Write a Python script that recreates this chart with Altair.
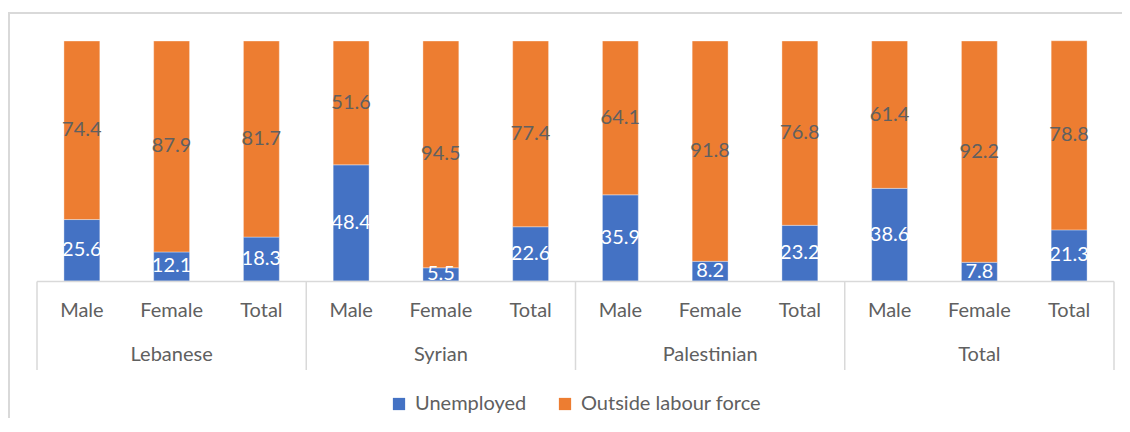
import altair as alt
import pandas as pd

groups = ["Lebanese", "Syrian", "Palestinian", "Total"]
subs = ["Male", "Female", "Total"]
unemployed = [25.6, 12.1, 18.3, 48.4, 5.5, 22.6, 35.9, 8.2, 23.2, 38.6, 7.8, 21.3]
outside = [74.4, 87.9, 81.7, 51.6, 94.5, 77.4, 64.1, 91.8, 76.8, 61.4, 92.2, 78.8]
series = ["Unemployed", "Outside labour force"]
colors = ["#4472C4", "#ED7D31"]

FONT = "Lato"
GRAY = "#606060"
LINE = "#D9D9D9"
W, H = 1077, 240

rows = []
for i in range(len(unemployed)):
    g = groups[i // 3]
    s = subs[i % 3]
    rows.append({"idx": i, "group": g, "sub": s, "series": series[0], "order": 0, "value": unemployed[i]})
    rows.append({"idx": i, "group": g, "sub": s, "series": series[1], "order": 1, "value": outside[i]})
df = pd.DataFrame(rows)

sub_df = pd.DataFrame({"idx": list(range(12)), "sub": [subs[i % 3] for i in range(12)]})
grp_df = pd.DataFrame({"gi": list(range(4)), "group": groups})
sep_df = pd.DataFrame({"gi": list(range(5))})
base_df = pd.DataFrame({"a": [0], "b": [len(unemployed)]})

xs = alt.Scale(domain=[0, 12], nice=False, zero=False, padding=0)
ys = alt.Scale(domain=[0, 100], nice=False)

stacked = alt.Chart(df).transform_stack(
    stack="value", groupby=["idx"], as_=["y0", "y1"], sort=[alt.SortField("order")]
).transform_calculate(
    x0="datum.idx + 0.3", x1="datum.idx + 0.7", xm="datum.idx + 0.5",
    ym="(datum.y0 + datum.y1) / 2"
)

bars = stacked.mark_bar(stroke="white", strokeWidth=0.6, strokeOpacity=0.6).encode(
    x=alt.X("x0:Q", scale=xs, axis=None),
    x2="x1:Q",
    y=alt.Y("y0:Q", scale=ys, axis=None),
    y2="y1:Q",
    color=alt.Color(
        "series:N",
        scale=alt.Scale(domain=series, range=colors),
        legend=alt.Legend(
            title=None, orient="none", direction="horizontal",
            legendX=352, legendY=353,
            symbolType="square", symbolSize=150, symbolStrokeWidth=0,
            labelFont=FONT, labelFontSize=20, labelColor=GRAY, labelLimit=0,
            labelOffset=6, columnPadding=28,
        ),
    ),
)

labels = stacked.mark_text(font=FONT, fontSize=20, baseline="middle", align="center", clip=True).encode(
    x=alt.X("xm:Q", scale=xs, axis=None),
    y=alt.Y("ym:Q", scale=ys, axis=None),
    text=alt.Text("value:Q", format=".1f"),
    color=alt.condition(alt.datum.series == "Unemployed", alt.value("white"), alt.value(GRAY)),
)

sub_labels = alt.Chart(sub_df).transform_calculate(xm="datum.idx + 0.5").mark_text(
    font=FONT, fontSize=20, color=GRAY, baseline="middle", align="center"
).encode(
    x=alt.X("xm:Q", scale=xs, axis=None),
    y=alt.value(270),
    text="sub:N",
)

grp_labels = alt.Chart(grp_df).transform_calculate(xm="datum.gi * 3 + 1.5").mark_text(
    font=FONT, fontSize=20, color=GRAY, baseline="middle", align="center"
).encode(
    x=alt.X("xm:Q", scale=xs, axis=None),
    y=alt.value(314),
    text="group:N",
)

seps = alt.Chart(sep_df).transform_calculate(xp="datum.gi * 3").mark_rule(
    color=LINE, strokeWidth=1.5
).encode(
    x=alt.X("xp:Q", scale=xs, axis=None),
    y=alt.value(240.5),
    y2=alt.value(329),
)

baseline = alt.Chart(base_df).mark_rule(color=LINE, strokeWidth=1.5).encode(
    x=alt.X("a:Q", scale=xs, axis=None),
    x2="b:Q",
    y=alt.value(240.5),
)

border_top = alt.Chart(base_df).mark_rule(color=LINE, strokeWidth=2).encode(
    x=alt.value(-29), x2=alt.value(1100), y=alt.value(-28)
)
border_left = alt.Chart(base_df).mark_rule(color=LINE, strokeWidth=2).encode(
    x=alt.value(-28), y=alt.value(-28), y2=alt.value(380)
)

chart = alt.layer(
    border_top, border_left, bars, labels, baseline, seps, sub_labels, grp_labels
).properties(
    width=W, height=H,
    autosize=alt.AutoSizeParams(type="none"),
    padding={"left": 29, "top": 33, "right": 8, "bottom": 137},
).configure_view(stroke=None)

chart.save("out.html", embed_options={"renderer": "svg", "actions": False})
